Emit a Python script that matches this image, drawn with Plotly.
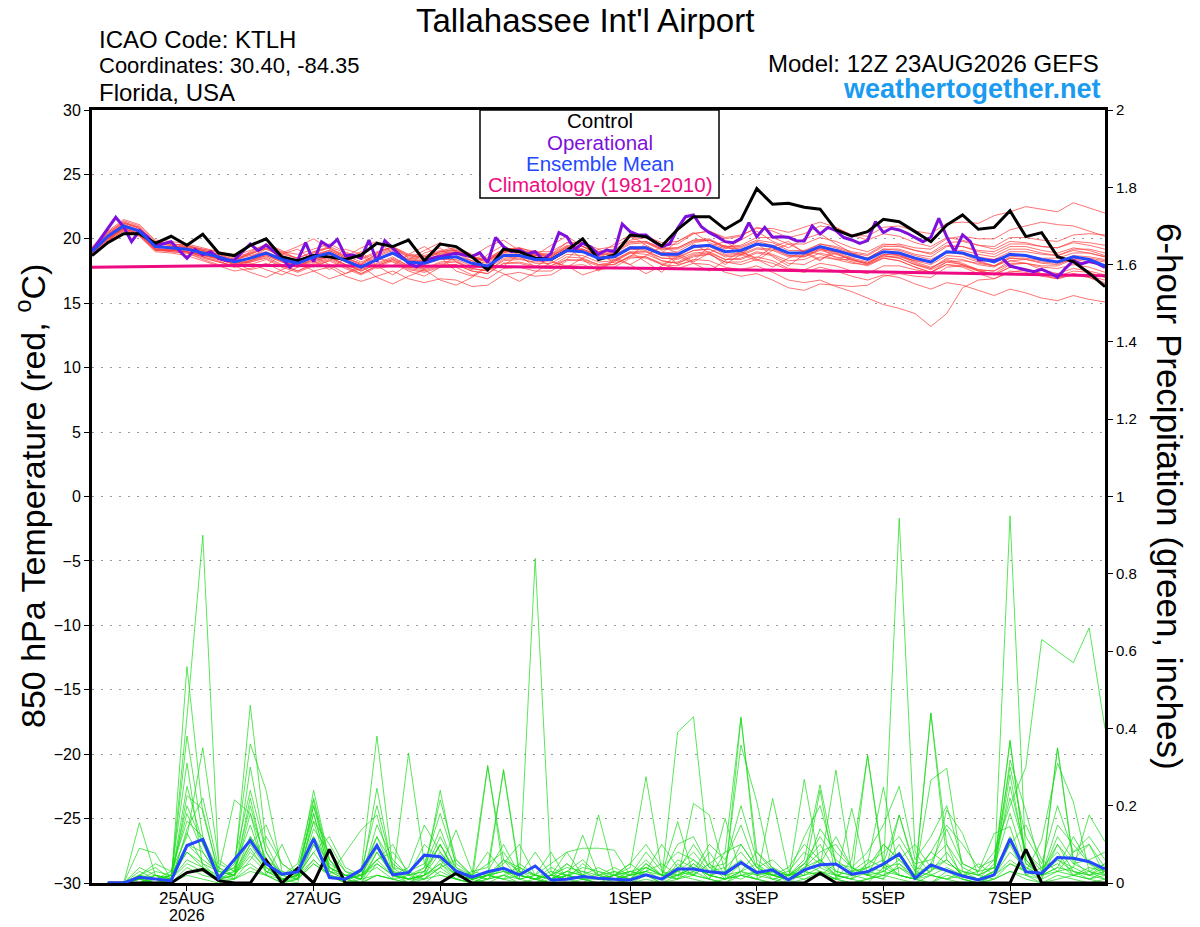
import pandas as pd
import plotly.graph_objects as go

# ---------------- data ----------------
start_time = "2026-08-23 12:00"
n_temp = 65
n_op = 129
n_pcp = 64

tick_dates = ["2026-08-25", "2026-08-27", "2026-08-29", "2026-09-01",
              "2026-09-03", "2026-09-05", "2026-09-07"]
tick_labels = ["25AUG", "27AUG", "29AUG", "1SEP", "3SEP", "5SEP", "7SEP"]
year_label = "2026"

control_t = [18.7,19.7,20.4,20.4,19.65,20.2,19.5,20.35,18.9,18.7,19.5,20.0,18.6,18.3,18.7,18.6,18.4,
             18.74,19.65,19.4,19.9,18.3,19.6,19.4,18.6,17.6,19.2,19.0,18.5,18.4,19.1,20.0,18.4,
             18.75,20.3,20.17,19.45,20.74,21.72,21.72,20.74,21.46,23.9,22.68,22.76,22.45,22.3,20.7,20.2,
             20.56,21.51,21.33,20.56,19.78,21.07,21.85,20.74,20.89,22.18,20.17,20.48,18.62,18.23,17.33,16.29]

operational_t = [19.06,19.9,20.8,21.67,20.94,19.78,20.63,20.17,19.44,19.6,19.78,19.1,18.49,19.18,18.74,19.0,
                 18.49,18.3,18.36,19.0,19.6,19.08,19.52,19.0,18.49,17.79,18.36,19.7,18.23,19.78,19.39,19.96,18.7,
                 18.74,18.49,19.91,18.23,19.86,19.26,18.62,18.1,17.84,18.23,18.49,18.62,18.74,18.87,18.74,18.62,
                 18.93,18.15,20.1,19.39,19.0,19.13,18.82,19.0,18.36,18.87,20.48,20.17,19.18,19.65,19.39,18.8,
                 19.13,19.0,21.15,20.56,20.3,20.3,19.78,19.39,19.6,20.82,21.72,21.85,20.94,20.48,20.17,19.78,
                 19.7,20.04,21.25,20.17,20.89,20.12,20.17,20.12,19.86,19.83,21.0,20.38,20.89,20.63,20.1,
                 19.91,19.65,19.86,21.33,20.48,20.82,20.69,20.43,20.12,19.78,20.12,21.59,20.17,19.0,20.3,19.78,
                 18.36,18.36,18.3,18.49,17.89,17.71,17.58,17.45,17.63,17.37,17.01,17.71,18.3,18.05,18.23,18.1,17.79]

mean_t = [19.0,20.2,21.0,20.6,19.4,19.3,19.2,18.9,18.6,18.2,18.5,18.9,18.4,18.1,18.6,18.9,18.3,
          17.8,18.4,18.9,18.2,18.1,18.5,18.6,18.1,17.9,18.7,18.7,18.4,18.4,19.1,19.0,18.5,
          18.6,19.3,19.3,18.8,18.8,19.4,19.5,19.0,19.1,19.6,19.4,18.9,18.9,19.4,19.1,18.75,
          18.4,19.0,18.9,18.5,18.2,19.0,18.9,18.5,18.2,18.8,18.7,18.4,18.2,18.6,18.4,17.9]

climatology_t = [17.80,17.82,17.84,17.86,17.88,17.90,17.90,17.92,17.92,17.93,17.93,17.93,17.93,17.93,17.92,17.92,17.92,
                 17.91,17.90,17.90,17.90,17.89,17.88,17.88,17.87,17.86,17.85,17.84,17.83,17.82,17.81,17.80,17.78,
                 17.76,17.74,17.72,17.70,17.68,17.66,17.64,17.62,17.60,17.58,17.56,17.54,17.52,17.50,17.48,17.46,
                 17.44,17.42,17.40,17.38,17.36,17.34,17.32,17.30,17.28,17.26,17.24,17.22,17.20,17.18,17.16,17.14]

member_t01 = [19.2,20.4,21.3,20.8,19.6,19.5,19.0,18.8,18.4,18.0,18.6,19.2,18.7,18.3,18.9,19.3,18.6,18.0,18.9,19.4,18.5,18.4,19.0,19.2,18.6,18.3,19.1,19.3,18.9,18.8,19.7,19.6,19.0,19.2,19.9,20.1,19.5,19.6,20.4,20.6,20.0,20.2,20.9,20.6,20.1,20.4,21.0,20.8,20.3,20.2,20.9,21.0,20.6,20.4,21.2,21.3,21.2,21.8,22.1,22.5,22.3,22.1,22.8,22.4,22.0]
member_t02 = [18.8,19.9,20.8,20.4,19.2,19.0,18.9,18.4,18.0,17.8,18.2,18.6,18.0,17.5,18.1,18.5,17.9,17.3,17.9,18.4,17.8,17.6,18.0,18.0,17.5,17.3,18.1,18.1,17.8,17.7,18.4,18.3,17.9,18.0,18.6,18.5,18.0,17.9,18.4,18.3,17.8,17.6,17.9,17.4,16.8,16.6,16.8,16.3,15.9,15.4,14.9,14.6,14.2,13.2,14.2,16.2,16.8,16.9,17.4,17.6,17.3,17.1,17.5,17.4,17.0]
member_t03 = [19.3,20.0,20.7,20.3,19.1,19.1,19.3,19.0,18.7,18.1,18.3,18.7,18.2,17.9,18.4,18.6,18.0,17.5,18.0,18.5,17.9,17.7,18.2,18.3,17.7,17.5,18.4,18.5,18.1,18.1,18.8,18.7,18.2,18.3,18.9,18.8,18.3,18.1,18.7,18.8,18.2,18.0,18.4,18.1,17.6,17.4,17.8,17.5,17.1,16.8,17.2,17.0,16.5,16.1,16.6,16.4,16.0,15.6,16.1,15.8,15.4,15.2,15.6,15.3,15.1]
member_t04 = [19.1,20.5,21.4,21.0,19.8,19.6,19.4,19.2,18.9,18.5,18.8,19.3,18.8,18.5,19.0,19.3,18.7,18.2,18.8,19.3,18.7,18.6,19.0,19.1,18.6,18.4,19.2,19.3,19.0,19.0,19.7,19.7,19.2,19.4,20.1,20.2,19.7,19.8,20.4,20.6,20.1,20.3,20.8,20.8,20.5,20.9,21.3,20.9,20.3,19.9,20.4,20.2,19.7,19.4,20.1,19.9,19.5,19.2,19.8,19.7,19.4,19.3,19.7,19.5,19.2]
member_t05 = [18.9,19.9,20.6,20.2,19.0,18.9,18.7,18.3,17.9,17.5,17.7,18.1,17.5,17.1,17.5,17.8,17.1,16.7,17.1,17.5,16.9,16.6,16.9,16.8,16.3,16.4,17.2,17.4,17.1,17.2,17.9,18.0,17.6,17.8,18.5,18.6,18.1,18.2,18.8,18.9,18.4,18.5,19.0,18.8,18.3,18.4,18.9,18.6,18.2,17.9,18.5,18.3,17.8,17.4,18.0,17.8,17.3,16.9,17.5,17.4,17.1,16.9,17.2,17.0,16.6]
member_t06 = [19.4,20.6,21.5,21.1,19.9,19.8,19.6,19.3,19.0,18.7,19.1,19.5,19.0,18.8,19.2,19.6,19.0,18.5,19.0,19.4,18.8,18.7,19.1,19.3,18.8,18.5,19.2,19.1,18.7,18.6,19.3,19.1,18.5,18.4,19.0,19.0,18.3,18.1,18.6,18.8,18.2,18.2,18.6,18.3,17.7,17.6,18.1,17.9,17.5,17.3,17.9,17.9,17.6,17.4,18.2,18.3,18.1,17.9,18.6,18.7,18.5,18.5,18.9,18.9,18.6]
member_t07 = [18.7,19.8,20.9,20.7,19.5,19.2,19.0,18.6,18.2,17.9,18.3,18.7,18.2,17.8,18.2,18.6,18.0,17.6,18.3,18.9,18.3,18.2,18.7,18.9,18.5,18.3,19.1,19.2,18.8,18.8,19.5,19.4,18.8,18.8,19.4,19.3,18.7,18.6,19.1,19.2,18.6,18.7,19.2,19.1,18.6,18.6,19.2,19.0,18.7,18.5,19.2,19.2,18.8,18.6,19.4,19.4,19.0,18.8,19.4,19.4,19.1,18.9,19.3,19.1,18.7]
member_t08 = [19.0,20.1,20.9,20.5,19.3,19.4,19.4,19.1,18.8,18.4,18.7,19.0,18.5,18.2,18.8,19.1,18.5,18.0,18.6,19.1,18.4,18.3,18.8,18.9,18.3,18.1,18.9,18.9,18.5,18.5,19.2,19.2,18.7,18.9,19.6,19.7,19.2,19.3,19.9,20.0,19.4,19.4,19.9,19.7,19.1,19.1,19.6,19.3,18.9,18.7,19.4,19.4,19.1,18.9,19.7,19.8,19.5,19.4,20.1,20.1,19.9,19.8,20.3,20.4,20.3]
member_t09 = [19.2,20.3,21.1,20.7,19.5,19.2,19.0,18.7,18.5,18.2,18.9,19.5,18.9,19.4,20.0,19.2,18.6,19.3,19.8,18.9,18.4,19.1,19.7,19.0,18.6,19.4,19.9,19.1,18.7,19.5,20.2,19.4,18.8,19.6,20.3,19.5,18.9,19.8,20.5,19.7,19.2,19.9,20.6,19.8,19.3,20.0,20.4,19.6,18.9,18.5,19.0,18.7,18.1,17.7,18.4,18.1,17.6,17.2,17.8,17.6,17.2,16.9,17.3,17.1,16.8]
member_t10 = [19.0,20.0,20.8,20.4,19.3,19.3,19.2,18.8,18.5,18.0,18.2,18.5,17.9,17.5,18.0,18.4,17.8,17.3,17.9,18.4,17.7,17.5,17.9,18.0,17.5,17.3,18.1,18.2,17.9,17.9,18.6,18.5,18.0,18.0,18.7,18.6,18.0,17.7,18.1,18.0,17.4,17.1,17.3,16.8,16.2,16.0,16.5,16.4,16.3,16.4,17.1,17.3,17.1,17.0,17.8,17.9,17.6,17.5,18.1,18.1,17.8,17.7,18.0,17.8,17.4]
member_t11 = [18.8,20.3,21.2,20.9,19.6,19.5,19.3,18.9,18.6,18.3,18.1,17.6,17.2,17.8,18.6,18.0,17.3,17.7,18.5,18.2,17.5,17.1,17.8,18.7,18.3,17.6,17.9,18.8,19.1,18.3,17.8,18.5,19.2,18.6,18.0,18.7,19.4,18.9,18.2,18.9,19.5,18.8,18.3,19.1,19.6,19.0,18.4,18.9,18.3,18.1,18.8,18.8,18.4,18.2,19.0,19.1,18.8,18.6,19.2,19.2,18.9,18.7,19.1,18.9,18.6]
member_t12 = [19.1,20.2,21.0,20.5,19.4,19.4,19.3,19.0,18.7,18.3,18.5,18.9,18.4,18.2,18.7,19.0,18.4,17.9,18.4,18.8,18.2,18.0,18.4,18.4,17.9,17.7,18.5,18.6,18.3,18.3,19.0,19.0,18.5,18.6,19.2,19.2,18.7,18.7,19.3,19.4,18.8,18.9,19.5,19.4,18.9,19.0,19.6,19.4,19.0,18.8,19.5,19.6,19.3,19.2,20.0,20.2,20.0,20.0,20.7,21.0,21.3,21.1,21.0,20.6,20.2]
member_t13 = [19.3,20.1,20.8,20.4,19.2,19.1,19.0,18.7,18.4,18.1,17.6,17.9,18.8,19.2,18.3,17.6,18.5,19.0,17.9,17.2,18.0,18.9,19.3,18.2,17.6,18.8,19.5,18.7,17.8,18.6,19.4,18.4,17.5,18.3,19.0,18.2,17.4,18.6,19.6,18.9,18.0,18.8,19.7,18.6,17.9,18.8,19.3,18.5,18.6,18.5,19.2,19.1,18.7,18.4,19.0,18.8,18.3,17.9,18.3,18.1,17.6,17.3,17.7,17.5,17.2]
member_t14 = [18.9,20.0,20.9,20.6,19.5,19.3,19.1,18.8,18.6,18.4,18.8,19.3,18.9,18.5,19.0,19.4,18.9,18.4,18.9,19.4,18.7,18.6,19.0,19.1,18.6,18.4,19.1,19.1,18.8,18.7,19.3,19.2,18.6,18.6,19.2,19.1,18.5,18.4,18.9,19.0,18.4,18.4,18.9,18.7,18.1,18.0,18.6,18.4,18.1,18.0,18.6,18.6,18.3,18.2,18.9,18.9,18.6,18.4,19.0,19.0,18.8,18.7,19.2,19.2,18.9]
member_t15 = [19.0,20.3,21.1,20.6,19.3,19.1,19.0,18.8,18.5,18.0,18.3,18.8,18.3,17.9,18.4,18.8,18.2,17.7,18.3,18.9,18.3,18.3,18.8,19.0,18.5,18.2,19.0,19.1,18.7,18.7,19.4,19.4,19.0,19.1,19.8,19.8,19.2,19.2,19.8,19.9,19.3,19.3,19.8,19.5,18.9,18.8,19.3,19.0,18.5,18.2,18.8,18.7,18.3,18.0,18.7,18.6,18.2,17.9,18.5,18.4,18.1,18.0,18.5,18.4,18.2]
member_t16 = [19.1,20.1,20.8,20.3,19.1,19.2,19.3,19.1,18.8,18.3,19.0,19.6,19.1,18.4,17.8,18.3,19.2,18.8,17.7,17.9,18.8,19.4,18.6,17.5,17.1,17.9,18.9,19.3,18.5,17.9,18.4,19.6,19.0,18.1,18.6,19.7,19.1,18.0,18.3,19.4,19.8,19.0,18.5,19.4,19.8,18.9,18.3,19.2,18.8,18.5,19.0,18.8,18.2,17.8,18.3,18.0,17.5,17.3,18.0,18.1,17.9,17.9,18.4,18.5,18.3]
member_t17 = [19.2,20.4,21.2,20.8,19.7,19.6,19.5,19.1,18.7,18.2,18.4,18.8,18.3,17.9,18.3,18.6,18.0,17.5,18.1,18.6,17.9,17.7,18.1,18.2,17.7,17.5,18.3,18.4,18.2,18.3,19.1,19.2,18.8,19.0,19.7,19.8,19.3,19.3,19.9,19.9,19.3,19.2,19.6,19.3,18.7,18.6,19.1,18.8,18.4,18.1,18.7,18.5,18.0,17.7,18.5,18.4,18.0,17.8,18.5,18.5,18.3,18.2,18.7,18.6,18.4]
member_t18 = [18.8,19.8,20.6,20.3,19.2,19.1,19.0,18.6,18.3,17.8,18.0,18.4,17.8,17.4,17.9,18.3,17.7,17.2,17.8,18.3,17.6,17.4,17.8,17.8,17.2,16.9,17.7,17.8,17.5,17.5,18.3,18.4,18.0,18.2,18.9,19.0,18.5,18.5,19.1,19.2,18.7,18.8,19.3,19.2,18.7,18.7,19.2,18.9,18.4,18.0,18.5,18.3,17.8,17.4,18.0,17.9,17.5,17.2,17.8,17.7,17.3,17.0,17.3,17.0,16.5]
member_t19 = [19.3,20.5,21.3,20.9,19.7,19.6,19.5,19.2,19.0,18.6,18.9,19.2,18.6,18.2,18.7,19.1,18.5,18.1,18.7,19.2,18.6,18.5,18.9,19.0,18.5,18.3,19.0,19.0,18.6,18.5,19.2,19.1,18.6,18.6,19.3,19.4,18.9,19.0,19.7,19.9,19.4,19.5,20.1,20.1,19.6,19.6,20.1,19.8,19.3,19.0,19.6,19.5,19.1,18.8,19.5,19.4,19.1,19.0,19.6,19.6,19.4,19.3,19.8,19.7,19.5]
member_t20 = [18.9,20.0,20.7,20.2,19.1,19.0,18.9,18.5,18.2,17.9,17.4,17.0,17.6,18.2,17.5,16.9,17.3,17.9,17.0,16.5,17.1,17.6,16.8,16.4,17.0,17.8,17.3,16.7,17.4,18.2,17.9,17.2,17.6,18.4,18.0,17.3,17.9,18.7,18.1,17.5,18.3,19.0,18.4,17.8,18.5,19.1,18.8,18.4,18.4,18.1,18.7,18.5,18.0,17.6,18.2,18.0,17.6,17.5,18.3,18.4,18.2,18.1,18.4,18.2,17.8]

control_p = [0,0,0,0,0,0.027,0.035,0.006, 0,0,0.059,0,0.038,0,0.087,0,
             0,0,0,0,0,0,0.025,0, 0,0,0,0,0,0,0,0,
             0,0,0,0,0,0,0,0, 0,0,0,0,0,0.025,0,0,
             0,0,0,0,0,0,0,0, 0,0,0.087,0,0,0,0,0]

mean_p = [0,0,0.015,0.01,0.006,0.097,0.113,0.012, 0.06,0.11,0.05,0.023,0.029,0.114,0.014,0.01,
          0.034,0.097,0.021,0.027,0.072,0.068,0.031,0.015, 0.029,0.038,0.021,0.044,0.008,0.01,0.017,0.012,
          0.01,0.008,0.021,0.01,0.036,0.036,0.029,0.025, 0.053,0.027,0.034,0.008,0.034,0.047,0.049,0.023,
          0.029,0.049,0.075,0.012,0.047,0.032,0.018,0.008, 0.021,0.114,0.029,0.025,0.066,0.064,0.055,0.036]

member_p01 = [0,0,0.02,0.01,0,0.56,0.18,0.03, 0.02,0.12,0.05,0.01,0.02,0.24,0.06,0.01, 0,0.05,0.02,0,0.03,0.1,0.02,0.01, 0,0.02,0.01,0.84,0.03,0,0.01,0.02, 0,0.01,0.04,0.02,0.02,0.05,0.01,0.08, 0.43,0.05,0.01,0,0.03,0.06,0.02,0.01, 0,0.04,0.05,0.01,0,0.03,0.01,0, 0.02,0.95,0.06,0.01,0.1,0.03,0.01,0.02]
member_p02 = [0,0,0,0.02,0.01,0.43,0.9,0.05, 0.03,0.46,0.1,0.02,0.01,0.16,0.02,0, 0.03,0.38,0.04,0.01,0.02,0.05,0.01,0, 0.3,0.06,0.01,0,0.02,0.01,0,0.03, 0.01,0,0.02,0,0.05,0.02,0.01,0, 0.03,0.01,0,0.02,0.05,0.03,0.01,0.06, 0.33,0.04,0.02,0.01,0.44,0.1,0.01,0, 0.02,0.05,0.03,0.01,0.35,0.06,0.1,0.02]
member_p03 = [0,0,0.01,0,0.02,0.31,0.04,0.01, 0.05,0.36,0.24,0.03,0.01,0.215,0.04,0.01, 0,0.02,0.01,0.336,0.05,0.02,0.01,0.03, 0.04,0.29,0.02,0.01,0,0.02,0.01,0, 0.02,0.04,0.275,0.03,0.01,0.02,0.05,0.01, 0.02,0.03,0.01,0.02,0.06,0.254,0.05,0.02, 0.01,0.03,0.944,0.08,0.02,0.01,0.03,0.02, 0.04,0.37,0.05,0.02,0.04,0.12,0.05,0.03]
member_p04 = [0,0,0.156,0.02,0,0.226,0.19,0.02, 0.01,0.3,0.08,0.01,0,0.18,0.03,0.02, 0.01,0.245,0.03,0,0.02,0.24,0.04,0.01, 0.02,0.01,0.05,0.02,0.08,0.01,0.124,0.02, 0.01,0.02,0.03,0.01,0.39,0.43,0.05,0.02, 0.01,0.03,0.02,0.01,0.02,0.04,0.292,0.03, 0.02,0.01,0.05,0.02,0.266,0.297,0.03,0.01, 0.02,0.318,0.185,0.03,0.05,0.02,0.01,0.03]
member_p05 = [0,0,0.09,0.077,0.01,0.13,0.05,0.03, 0.215,0.18,0.02,0.1,0.01,0.05,0.02,0.077, 0.137,0.176,0.02,0.01,0.04,0.215,0.06,0.02, 0.305,0.03,0.01,0.02,0.05,0.08,0.09,0.09, 0.085,0.02,0.04,0.02,0.01,0.206,0.176,0.03, 0.357,0.21,0.02,0.01,0.268,0.04,0.02,0.01, 0.05,0.248,0.02,0.01,0.03,0.189,0.128,0.02, 0.01,0.05,0.03,0.11,0.31,0.21,0.03,0.01]
member_p06 = [0,0,0.03,0.01,0.02,0.1,0.08,0.02, 0.04,0.12,0.06,0.01,0.02,0.16,0.1,0.03, 0.01,0.06,0.1,0.02,0.01,0.04,0.137,0.03, 0.02,0.294,0.03,0.01,0.04,0.02,0.01,0.176, 0.02,0.01,0.03,0.02,0.159,0.02,0.01,0.167, 0.02,0.01,0.219,0.03,0.02,0.24,0.01,0.193, 0.02,0.01,0.176,0.03,0.02,0.01,0.02,0.03, 0.128,0.146,0.02,0.01,0.03,0.04,0.176,0.107]
member_p07 = [0,0,0.01,0,0.01,0.05,0.03,0.01, 0.02,0.07,0.03,0.01,0.01,0.1,0.04,0.02, 0,0.08,0.02,0.01,0.01,0.06,0.02,0, 0.01,0.04,0.02,0.01,0.02,0.08,0.02,0.01, 0.01,0.03,0.02,0.01,0.06,0.04,0.02,0.01, 0.03,0.08,0.04,0.02,0.05,0.12,0.06,0.03, 0.04,0.1,0.06,0.02,0.05,0.14,0.05,0.03, 0.08,0.2,0.3,0.63,0.6,0.57,0.66,0.4]
member_p08 = [0,0,0,0,0,0.02,0.01,0, 0.01,0.03,0.02,0,0.01,0.05,0.02,0, 0,0.02,0.01,0,0,0.03,0.01,0, 0.01,0.02,0,0,0.01,0.02,0.01,0, 0,0.01,0.02,0,0.01,0.03,0.01,0, 0.02,0.01,0.03,0,0.01,0.02,0.01,0, 0.01,0.02,0.04,0.01,0,0.02,0.01,0, 0.01,0.03,0.02,0,0.01,0.02,0.01,0]
member_p09 = [0,0,0.01,0.03,0.02,0.2,0.1,0.04, 0.02,0.1,0.15,0.05,0.02,0.2,0.06,0.02, 0.01,0.12,0.05,0.02,0.03,0.1,0.03,0.01, 0.02,0.05,0.1,0.02,0.01,0.03,0.02,0.01, 0.02,0.05,0.02,0.01,0.03,0.1,0.04,0.02, 0.05,0.03,0.02,0.01,0.04,0.08,0.1,0.04, 0.02,0.05,0.176,0.04,0.03,0.06,0.02,0.01, 0.03,0.25,0.08,0.04,0.06,0.03,0.02,0.05]
member_p10 = [0,0,0.02,0.05,0.03,0.12,0.35,0.06, 0.03,0.2,0.05,0.02,0.04,0.18,0.03,0.01, 0.02,0.1,0.03,0.01,0.02,0.05,0.02,0.01, 0.03,0.1,0.02,0.01,0.02,0.04,0.03,0.02, 0.01,0.02,0.08,0.03,0.02,0.04,0.02,0.01, 0.426,0.08,0.03,0.02,0.03,0.02,0.05,0.02, 0.03,0.02,0.04,0.02,0.439,0.06,0.02,0.01, 0.02,0.08,0.04,0.02,0.349,0.05,0.03,0.02]
member_p11 = [0,0,0,0.01,0.02,0.08,0.05,0.01, 0.03,0.05,0.02,0.01,0.02,0.08,0.02,0.01, 0.02,0.04,0.01,0.02,0.1,0.06,0.02,0.01, 0.02,0.03,0.02,0.08,0.02,0.01,0.02,0.04, 0.02,0.03,0.02,0.01,0.03,0.02,0.08,0.02, 0.03,0.05,0.02,0.01,0.02,0.03,0.02,0.01, 0.331,0.05,0.02,0.01,0.02,0.04,0.02,0.01, 0.05,0.366,0.06,0.02,0.03,0.02,0.04,0.03]
member_p12 = [0,0,0.01,0,0,0.04,0.02,0.01, 0.01,0.04,0.02,0,0.01,0.06,0.02,0, 0.01,0.02,0.01,0,0.01,0.02,0.01,0, 0.02,0.01,0,0.01,0,0.02,0.01,0, 0.01,0,0.01,0,0.02,0.01,0,0.01, 0.02,0.01,0,0.02,0.01,0.03,0.01,0, 0.01,0.02,0.01,0,0.02,0.01,0,0, 0.01,0.03,0.01,0,0.02,0.01,0,0.01]
member_p13 = [0,0,0.02,0.01,0.03,0.16,0.12,0.02, 0.06,0.24,0.08,0.02,0.03,0.12,0.05,0.02, 0.03,0.2,0.04,0.03,0.05,0.18,0.05,0.02, 0.01,0.06,0.03,0.02,0.01,0.05,0.02,0.01, 0.03,0.02,0.06,0.02,0.04,0.08,0.03,0.02, 0.1,0.04,0.02,0.03,0.08,0.05,0.02,0.03, 0.06,0.04,0.1,0.03,0.08,0.05,0.03,0.02, 0.04,0.18,0.05,0.02,0.12,0.06,0.02,0.04]
member_p14 = [0,0,0,0.02,0.01,0.1,0.06,0.03, 0.02,0.08,0.04,0.01,0.02,0.1,0.03,0.01, 0.02,0.06,0.02,0.01,0.02,0.08,0.03,0.01, 0.02,0.04,0.01,0.02,0.01,0.03,0.02,0.01, 0.02,0.03,0.04,0.02,0.01,0.05,0.02,0.03, 0.06,0.02,0.04,0.01,0.05,0.1,0.03,0.02, 0.04,0.06,0.02,0.01,0.03,0.08,0.02,0.01, 0.03,0.1,0.02,0.04,0.08,0.02,0.03,0.05]
member_p15 = [0,0,0.01,0.01,0.02,0.18,0.08,0.02, 0.04,0.15,0.03,0.02,0.01,0.14,0.08,0.03, 0.02,0.09,0.03,0.02,0.03,0.12,0.04,0.02, 0.05,0.08,0.02,0.01,0.03,0.02,0.04,0.03, 0.02,0.05,0.1,0.04,0.08,0.06,0.03,0.04, 0.08,0.03,0.02,0.04,0.1,0.06,0.03,0.02, 0.05,0.08,0.12,0.05,0.06,0.1,0.04,0.02, 0.06,0.22,0.08,0.03,0.1,0.05,0.06,0.08]
member_p16 = [0,0,0.04,0.02,0.01,0.25,0.1,0.01, 0.02,0.18,0.06,0.03,0.02,0.2,0.04,0.02, 0.01,0.15,0.06,0.02,0.04,0.14,0.03,0.02, 0.08,0.03,0.02,0.01,0.02,0.01,0.05,0.02, 0.03,0.01,0.05,0.02,0.1,0.12,0.04,0.05, 0.2,0.06,0.03,0.02,0.12,0.2,0.05,0.04, 0.08,0.15,0.25,0.06,0.12,0.2,0.05,0.03, 0.04,0.28,0.06,0.02,0.15,0.1,0.05,0.02]
member_p17 = [0,0,0.02,0.04,0.01,0.08,0.04,0.02, 0.03,0.1,0.04,0.02,0.05,0.22,0.06,0.01, 0.03,0.12,0.02,0.04,0.15,0.08,0.02,0.01, 0.02,0.06,0.04,0.02,0.01,0.03,0.06,0.02, 0.04,0.02,0.03,0.05,0.02,0.03,0.1,0.06, 0.15,0.04,0.02,0.01,0.03,0.14,0.08,0.04, 0.02,0.1,0.06,0.02,0.08,0.15,0.1,0.04, 0.06,0.3,0.12,0.05,0.2,0.08,0.12,0.06]
member_p18 = [0,0,0.01,0.02,0.01,0.06,0.04,0.01, 0.02,0.09,0.03,0.01,0.02,0.12,0.04,0.02, 0.01,0.08,0.02,0.01,0.02,0.1,0.02,0.01, 0.02,0.03,0.02,0.01,0.02,0.05,0.02,0.01, 0.02,0.01,0.05,0.02,0.03,0.06,0.02,0.01, 0.05,0.02,0.03,0.02,0.04,0.06,0.02,0.01, 0.03,0.05,0.08,0.02,0.04,0.06,0.02,0.01, 0.03,0.12,0.04,0.02,0.06,0.04,0.02,0.03]
member_p19 = [0,0,0,0.01,0,0.14,0.22,0.04, 0.01,0.06,0.12,0.05,0.02,0.08,0.12,0.04, 0.02,0.06,0.08,0.03,0.01,0.04,0.06,0.02, 0.01,0.02,0.04,0.02,0.01,0.02,0.03,0.01, 0.01,0.02,0.03,0.1,0.04,0.02,0.05,0.08, 0.1,0.04,0.06,0.02,0.03,0.05,0.12,0.04, 0.02,0.03,0.06,0.1,0.04,0.03,0.02,0.05, 0.02,0.1,0.15,0.06,0.03,0.08,0.1,0.04]
member_p20 = [0,0,0.01,0,0.01,0.38,0.12,0.03, 0.02,0.22,0.04,0.01,0.02,0.06,0.02,0.01, 0.02,0.05,0.02,0.01,0.02,0.04,0.01,0, 0.02,0.01,0.02,0.01,0,0.02,0.01,0.01, 0.02,0.01,0.02,0.01,0.02,0.04,0.02,0.01, 0.03,0.02,0.01,0.02,0.03,0.02,0.01,0.02, 0.04,0.03,0.02,0.01,0.05,0.03,0.02,0.01, 0.02,0.06,0.03,0.02,0.04,0.03,0.02,0.01]

members_t = [member_t01, member_t02, member_t03, member_t04, member_t05, member_t06, member_t07,
             member_t08, member_t09, member_t10, member_t11, member_t12, member_t13, member_t14,
             member_t15, member_t16, member_t17, member_t18, member_t19, member_t20]
members_p = [member_p01, member_p02, member_p03, member_p04, member_p05, member_p06, member_p07,
             member_p08, member_p09, member_p10, member_p11, member_p12, member_p13, member_p14,
             member_p15, member_p16, member_p17, member_p18, member_p19, member_p20]

for name, arr, n in ([("control_t", control_t, n_temp), ("operational_t", operational_t, n_op),
                      ("mean_t", mean_t, n_temp), ("climatology_t", climatology_t, n_temp),
                      ("control_p", control_p, n_pcp), ("mean_p", mean_p, n_pcp)] +
                     [(f"member_t{i+1}", m, n_temp) for i, m in enumerate(members_t)] +
                     [(f"member_p{i+1}", m, n_pcp) for i, m in enumerate(members_p)]):
    if len(arr) != n:
        raise ValueError(f"{name} has {len(arr)} values, expected {n}")

# time axes
t_temp = pd.date_range(start_time, periods=n_temp, freq="6h")
t_op = pd.date_range(start_time, periods=n_op, freq="3h")
t_pcp = pd.date_range(pd.Timestamp(start_time) + pd.Timedelta(hours=6), periods=n_pcp, freq="6h")

# ---------------- colours ----------------
RED = "rgba(255,60,60,0.8)"
GREEN = "rgba(25,220,25,0.9)"
PURPLE = "#7f0fdc"
BLUE = "#2448ff"
PINK = "#ee0a82"
FONT = "Liberation Sans, Arial, sans-serif"

fig = go.Figure()

for m in members_t:
    fig.add_trace(go.Scatter(x=t_temp, y=m, mode="lines", line=dict(color=RED, width=0.9),
                             hoverinfo="skip", yaxis="y"))
for m in members_p:
    fig.add_trace(go.Scatter(x=t_pcp, y=m, mode="lines", line=dict(color=GREEN, width=0.8),
                             hoverinfo="skip", yaxis="y2"))

fig.add_trace(go.Scatter(x=t_temp, y=climatology_t, mode="lines", line=dict(color=PINK, width=3), yaxis="y"))
fig.add_trace(go.Scatter(x=t_op, y=operational_t, mode="lines", line=dict(color=PURPLE, width=3), yaxis="y"))
fig.add_trace(go.Scatter(x=t_temp, y=control_t, mode="lines", line=dict(color="black", width=3), yaxis="y"))
fig.add_trace(go.Scatter(x=t_temp, y=mean_t, mode="lines", line=dict(color=BLUE, width=3), yaxis="y"))
fig.add_trace(go.Scatter(x=t_pcp, y=control_p, mode="lines", line=dict(color="black", width=3), yaxis="y2"))
fig.add_trace(go.Scatter(x=t_pcp, y=mean_p, mode="lines", line=dict(color=BLUE, width=3), yaxis="y2"))

L, R, T, B = 92, 95, 110, 44
W, H = 1200, 927
pw, ph = W - L - R, H - T - B

def px(x):
    return (x - L) / pw

def py(y):
    return (H - B - y) / ph

annotations = [
    dict(text="Tallahassee Int'l Airport", x=px(585), y=py(20), xanchor="center", yanchor="middle",
         font=dict(size=33, color="black")),
    dict(text="ICAO Code: KTLH", x=px(97), y=py(40), xanchor="left", yanchor="middle",
         font=dict(size=24, color="black")),
    dict(text="Coordinates: 30.40, -84.35", x=px(97), y=py(66), xanchor="left", yanchor="middle",
         font=dict(size=22, color="black")),
    dict(text="Florida, USA", x=px(97), y=py(93), xanchor="left", yanchor="middle",
         font=dict(size=24, color="black")),
    dict(text="Model: 12Z 23AUG2026 GEFS", x=px(1101), y=py(63), xanchor="right", yanchor="middle",
         font=dict(size=24, color="black")),
    dict(text="<b>weathertogether.net</b>", x=px(1103), y=py(89), xanchor="right", yanchor="middle",
         font=dict(size=27, color="#1a9bf0")),
    dict(text="Control", x=px(600), y=py(121), xanchor="center", yanchor="middle",
         font=dict(size=20.5, color="black")),
    dict(text="Operational", x=px(600), y=py(142), xanchor="center", yanchor="middle",
         font=dict(size=20.5, color=PURPLE)),
    dict(text="Ensemble Mean", x=px(600), y=py(163), xanchor="center", yanchor="middle",
         font=dict(size=20.5, color=BLUE)),
    dict(text="Climatology (1981-2010)", x=px(600), y=py(185), xanchor="center", yanchor="middle",
         font=dict(size=20.5, color=PINK)),
    dict(text="850 hPa Temperature (red, <sup>o</sup>C)", x=px(30), y=py(496), xanchor="center",
         yanchor="middle", textangle=-90, font=dict(size=34, color="black")),
    dict(text="6-hour Precipitation (green, inches)", x=px(1170), y=py(496), xanchor="center",
         yanchor="middle", textangle=90, font=dict(size=35, color="black")),
]
for a in annotations:
    a.update(xref="paper", yref="paper", showarrow=False)
annotations.append(dict(text=year_label, xref="x", yref="paper", x=tick_dates[0], y=py(915),
                        xanchor="center", yanchor="middle", showarrow=False,
                        font=dict(size=16, color="black")))

fig.update_layout(
    width=W, height=H,
    margin=dict(l=L, r=R, t=T, b=B, pad=0),
    paper_bgcolor="white", plot_bgcolor="white",
    showlegend=False, hovermode=False,
    font=dict(family=FONT, color="black"),
    annotations=annotations,
    shapes=[dict(type="rect", xref="paper", yref="paper", x0=px(480), x1=px(719),
                 y0=py(198), y1=py(110), line=dict(color="black", width=1.5),
                 fillcolor="white", layer="above")],
    xaxis=dict(range=[t_temp[0], t_temp[-1]], tickvals=tick_dates, ticktext=tick_labels,
               ticks="outside", ticklen=5, tickwidth=1.2, tickcolor="black",
               ticklabelstandoff=-7,
               showgrid=False, zeroline=False, automargin=False,
               showline=True, linecolor="black", linewidth=3, mirror=True,
               tickfont=dict(size=17, color="black")),
    yaxis=dict(range=[-30, 30], dtick=5, tick0=-30, ticks="outside", ticklen=5, tickwidth=1.2,
               tickcolor="black", showgrid=True, gridcolor="#9a9a9a", griddash="2px,7px", gridwidth=1.3,
               zeroline=False, showline=True, linecolor="black", linewidth=3, automargin=False,
               tickfont=dict(size=16, color="black")),
    yaxis2=dict(range=[0, 2], dtick=0.2, tick0=0, overlaying="y", side="right",
                ticks="outside", ticklen=5, tickwidth=1.2, tickcolor="black", automargin=False,
                showgrid=False, zeroline=False, showline=True, linecolor="black", linewidth=3,
                tickfont=dict(size=15, color="black")),
)

fig.write_html("out.html", config={"displayModeBar": False},
               post_script="document.body.style.margin='0px';document.body.style.overflow='hidden';")
